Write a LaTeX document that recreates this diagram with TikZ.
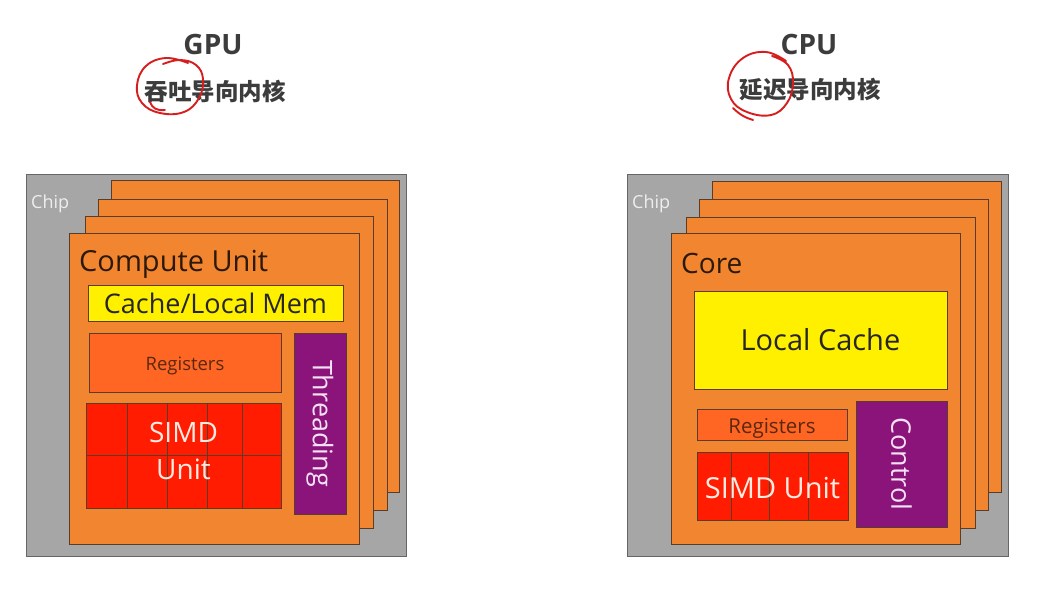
\documentclass[tikz,border=0pt]{standalone}
\usepackage{fontspec}
\setmainfont{Open Sans}
\newfontfamily\cjkfont{Noto Sans CJK SC}
\definecolor{chipgray}{RGB}{166,166,166}
\definecolor{cuorange}{RGB}{242,133,48}
\definecolor{cacheyellow}{RGB}{255,240,0}
\definecolor{regorange}{RGB}{255,102,36}
\definecolor{simdred}{RGB}{255,28,0}
\definecolor{ctrlpurple}{RGB}{138,20,122}
\definecolor{edge}{RGB}{90,60,40}
\definecolor{titlegray}{RGB}{60,60,60}
\definecolor{inkred}{RGB}{215,30,30}
\begin{document}
\begin{tikzpicture}[x=1pt,y=-1pt,
  blk/.style={draw=edge,line width=0.6pt,inner sep=0pt,outer sep=0pt,anchor=north west},
  chip/.style={blk,fill=chipgray,draw=black!60},
  layer/.style={blk,fill=cuorange},
  cache/.style={blk,fill=cacheyellow,text=black!85},
  regs/.style={blk,fill=regorange},
  regtext/.style={text={rgb,255:red,90;green,40;blue,15},inner sep=0pt},
  simd/.style={blk,fill=simdred},
  ctrl/.style={blk,fill=ctrlpurple},
  vlabel/.style={text={rgb,255:red,245;green,225;blue,245},rotate=-90,inner sep=0pt},
  ink/.style={draw=inkred,line width=1.9pt,line cap=round,line join=round}
]
\useasboundingbox (0,0) rectangle (1060,599);
\fill[white] (0,0) rectangle (1060,599);

% ---------- titles ----------
\node[font=\bfseries\fontsize{28}{30}\selectfont,text=titlegray,anchor=base] (gputitle) at (213,55) {GPU};
\node[font=\cjkfont\bfseries\fontsize{23.5}{26}\selectfont,text=titlegray] (gpusub) at (215,91) {吞吐导向内核};
\node[font=\bfseries\fontsize{28}{30}\selectfont,text=titlegray,anchor=base] (cputitle) at (809,55) {CPU};
\node[font=\cjkfont\bfseries\fontsize{23.5}{26}\selectfont,text=titlegray] (cpusub) at (810,90) {延迟导向内核};

% red hand-drawn marks
\draw[ink] plot[smooth,tension=0.7] coordinates {(188,63) (166,58) (146,66) (137,85) (142,103) (160,113) (184,112) (199,98) (203,79) (196,65) (180,60) (163,64)};
\draw[ink] (150,102) .. controls (152,108) and (157,111) .. (165,110);
\draw[ink] plot[smooth,tension=0.7] coordinates {(786,61) (766,52) (743,58) (729,78) (731,99) (747,112) (771,115) (787,103) (793,83) (788,65) (772,56)};
\draw[ink] (733,108) .. controls (740,115) and (746,118) .. (753,120);

% ---------- GPU ----------
\node[chip,minimum width=380,minimum height=382] (gchip) at (26,174) {};
\node[font=\fontsize{18}{20}\selectfont,text={rgb,255:red,238;green,238;blue,238},anchor=base west,inner sep=0pt] (gchiplbl) at (31,208) {Chip};
\node[layer,minimum width=288,minimum height=312] (gl4) at (111,180) {};
\node[layer,minimum width=289,minimum height=311] (gl3) at (98,199) {};
\node[layer,minimum width=288,minimum height=312] (gl2) at (85,216) {};
\node[layer,minimum width=290,minimum height=311] (gl1) at (69,233) {};
\node[font=\fontsize{29}{32}\selectfont,text={rgb,255:red,45;green,25;blue,10},anchor=base west,inner sep=0pt] (gculbl) at (79,271) {Compute Unit};
\node[cache,minimum width=255,minimum height=36,font=\fontsize{27}{30}\selectfont] (gcache) at (88,285) {Cache/Local Mem};
\node[regs,minimum width=192,minimum height=59] (gregs) at (89,333) {};
\node[regtext,font=\fontsize{18.5}{20}\selectfont,anchor=base] (gregslbl) at (185,370) {Registers};
\node[simd,minimum width=195,minimum height=105] (gsimd) at (86,403) {};
\draw[edge,line width=0.5pt] (127,403) -- (127,508) (167,403) -- (167,508) (207,403) -- (207,508) (242,403) -- (242,508) (86,455) -- (281,455);
\node[font=\fontsize{28}{37}\selectfont,text={rgb,255:red,255;green,235;blue,225},align=center] (gsimdlbl) at (183.5,451) {SIMD\\Unit};
\node[ctrl,minimum width=52,minimum height=181] (gthr) at (294,333) {};
\node[vlabel,font=\fontsize{27}{30}\selectfont] (gthrlbl) at (gthr.center) {Threading};

% ---------- CPU ----------
\node[chip,minimum width=381,minimum height=382] (cchip) at (627,174) {};
\node[font=\fontsize{18}{20}\selectfont,text={rgb,255:red,238;green,238;blue,238},anchor=base west,inner sep=0pt] (cchiplbl) at (632,208) {Chip};
\node[layer,minimum width=289,minimum height=311] (cl4) at (712,181) {};
\node[layer,minimum width=289,minimum height=311] (cl3) at (699,199) {};
\node[layer,minimum width=289,minimum height=311] (cl2) at (686,217) {};
\node[layer,minimum width=289,minimum height=311] (cl1) at (671,233) {};
\node[font=\fontsize{28}{32}\selectfont,text={rgb,255:red,45;green,25;blue,10},anchor=base west,inner sep=0pt] (ccorelbl) at (681,273) {Core};
\node[cache,minimum width=253,minimum height=98,font=\fontsize{29}{32}\selectfont] (ccache) at (694,291) {Local Cache};
\node[regs,minimum width=150,minimum height=31] (cregs) at (697,409) {};
\node[regtext,font=\fontsize{20.5}{22}\selectfont,anchor=base] (cregslbl) at (772,433) {Registers};
\node[simd,minimum width=151,minimum height=68] (csimd) at (697,452) {};
\draw[edge,line width=0.5pt] (731,452) -- (731,520) (769,452) -- (769,520) (808,452) -- (808,520);
\node[font=\fontsize{29}{32}\selectfont,text={rgb,255:red,255;green,235;blue,225},anchor=base] (csimdlbl) at (772.5,498) {SIMD Unit};
\node[ctrl,minimum width=91,minimum height=126] (cctrl) at (856,401) {};
\node[vlabel,font=\fontsize{27}{30}\selectfont] (cctrllbl) at (cctrl.center) {Control};
\end{tikzpicture}
\end{document}
